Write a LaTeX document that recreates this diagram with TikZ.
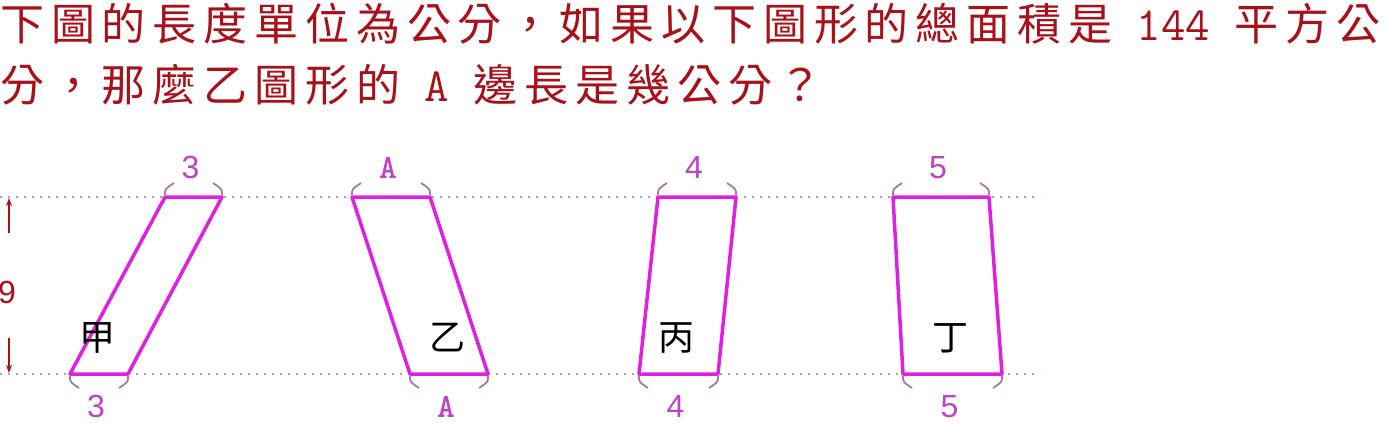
\documentclass[tikz,border=0pt]{standalone}
\usepackage{fontspec}
\setmainfont{Liberation Sans}
\newfontfamily\cjk[LetterSpace=15.6]{Noto Sans CJK TC}
\newfontfamily\cjkplain{Noto Sans CJK TC}
\usepackage{tikz}
\usetikzlibrary{calc,arrows.meta}
\definecolor{titlered}{HTML}{A8101A}
\definecolor{edgepink}{HTML}{E020E0}
\definecolor{sidepink}{HTML}{C040C8}
\definecolor{tickgray}{HTML}{A878A8}
\newcommand\sideshape[7]{
  \coordinate (#1-tl) at (#2,197);
  \coordinate (#1-tr) at (#3,197);
  \coordinate (#1-bl) at (#4,374);
  \coordinate (#1-br) at (#5,374);
  \draw[edge] (#1-tl) -- (#1-tr) -- (#1-br) -- (#1-bl) -- cycle;
  \draw[tickline] ($ (#1-tl) + (0,-2) $) .. controls ($ (#1-tl) + (0,-8) $) .. ($ (#1-tl) + (9,-14) $);
  \draw[tickline] ($ (#1-tr) + (0,-2) $) .. controls ($ (#1-tr) + (0,-8) $) .. ($ (#1-tr) + (-9,-14) $);
  \draw[tickline] ($ (#1-bl) + (0,2) $) .. controls ($ (#1-bl) + (0,8) $) .. ($ (#1-bl) + (9,14) $);
  \draw[tickline] ($ (#1-br) + (0,2) $) .. controls ($ (#1-br) + (0,8) $) .. ($ (#1-br) + (-9,14) $);
  \node[sidelabel] (#1-top) at ({(#2+#3)/2-3},178) {#6};
  \node[sidelabel] (#1-bot) at ({(#4+#5)/2-3},417) {#6};
  \node[letter] (#1-name) at ({(#4+#5)/2-2},338) {#7};
}

\begin{document}
\begin{tikzpicture}[x=1pt,y=-1pt,
    edge/.style={edgepink,line width=3.5pt,line join=round},
    tickline/.style={tickgray,line width=1.8pt},
    guide/.style={gray!70,line width=1.6pt,dash pattern=on 1.6pt off 6.4pt},
    dimarrow/.style={titlered,line width=1.4pt,-{Stealth[length=8pt,width=6pt]}},
    sidelabel/.style={anchor=base,inner sep=0pt,text=sidepink,font=\fontsize{32}{36}\selectfont},
    letter/.style={inner sep=0pt,font=\cjkplain\fontsize{36}{40}\selectfont},
    titletext/.style={anchor=base west,inner sep=0pt,text=titlered,font=\fontsize{44}{50}\selectfont}]
  \useasboundingbox (0,0) rectangle (1385,423);

  % question
  \node[titletext] (line1) at (0,40) {{\cjk 下圖的長度單位為公分，如果以下圖形的總面積是}{\ttfamily\fontsize{47.6}{50}\selectfont\ 144\ }{\cjk 平方公}};
  \node[titletext] (line2) at (0,101) {{\cjk 分，那麼乙圖形的}{\ttfamily\fontsize{47.6}{50}\selectfont\ A\ }{\cjk 邊長是幾公分？}};

  % guide lines
  \draw[guide] (0,197) -- (1040,197);
  \draw[guide] (0,374) -- (1040,374);

  % height
  \node[text=titlered,inner sep=0pt,font=\fontsize{32}{36}\selectfont] (height) at (7,292) {9};
  \coordinate (hup) at (9,233);
  \coordinate (htop) at (9,198);
  \coordinate (hdown) at (9,338);
  \coordinate (hbot) at (9,373);
  \draw[dimarrow] (hup) -- (htop);
  \draw[dimarrow] (hdown) -- (hbot);

  % shapes
  \sideshape{jia}{165}{222}{70}{128}{3}{甲}
  \sideshape{yi}{352}{430}{410}{488}{\ttfamily\bfseries\fontsize{34}{36}\selectfont A}{乙}
  \sideshape{bing}{658}{736}{639}{718}{4}{丙}
  \sideshape{ding}{893}{989}{903}{1002}{5}{丁}
\end{tikzpicture}
\end{document}
